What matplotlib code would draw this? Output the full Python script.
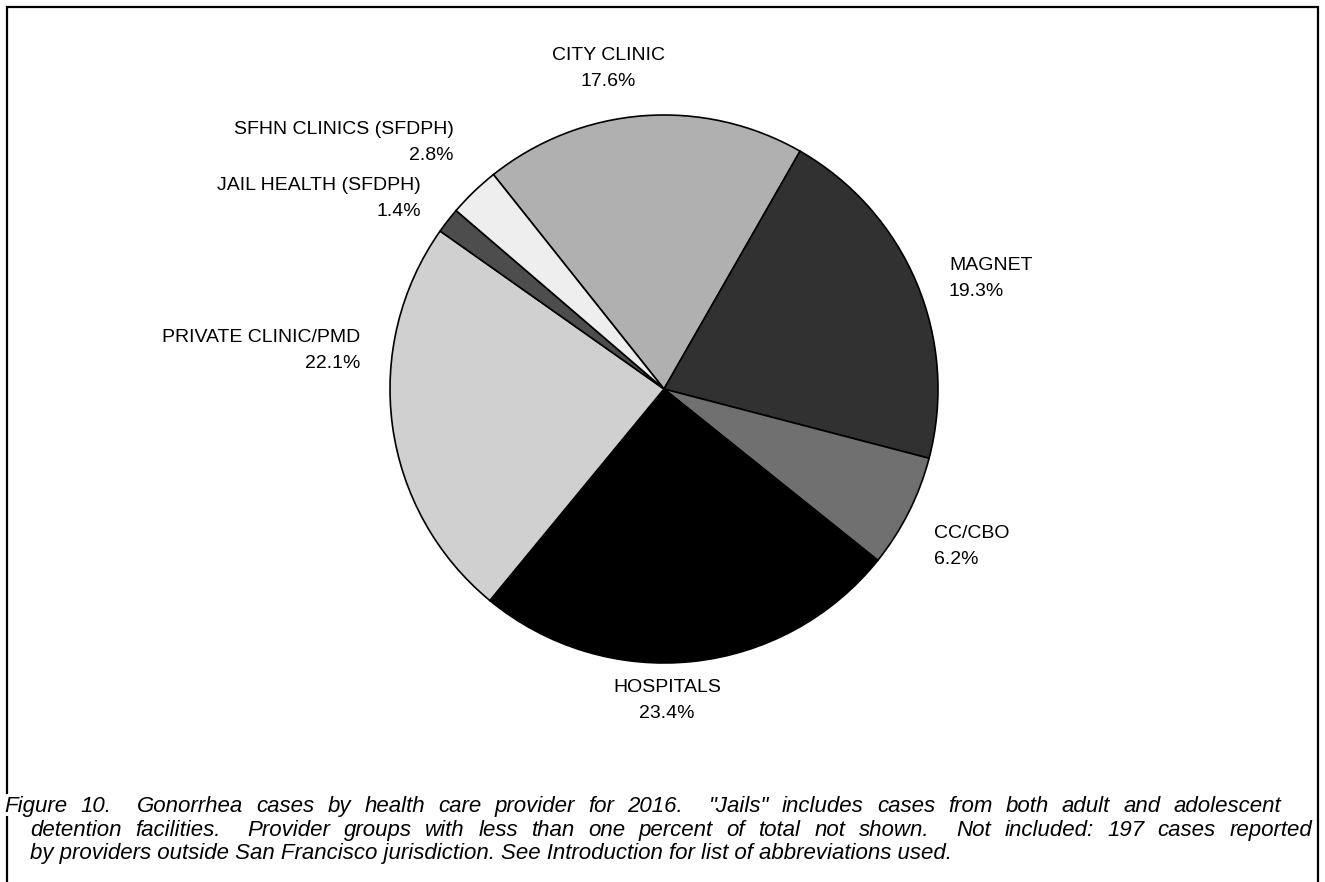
import matplotlib
matplotlib.use("Agg")
import matplotlib.pyplot as plt

# ---- data ----
providers = ["CITY CLINIC", "MAGNET", "CC/CBO", "HOSPITALS",
             "PRIVATE CLINIC/PMD", "JAIL HEALTH (SFDPH)", "SFHN CLINICS (SFDPH)"]
percents = [17.6, 19.3, 6.2, 23.4, 22.1, 1.4, 2.8]
colors = ["#b0b0b0", "#313131", "#707070", "#000000", "#d0d0d0", "#4d4d4d", "#eeeeee"]

caption_lines = [
    "Figure 10.  Gonorrhea cases by health care provider for 2016.  \"Jails\" includes cases from both adult and adolescent",
    "detention facilities.  Provider groups with less than one percent of total not shown.  Not included: 197 cases reported",
    "by providers outside San Francisco jurisdiction. See Introduction for list of abbreviations used.",
]

W, H = 1325, 882
fig = plt.figure(figsize=(W / 100, H / 100), dpi=100)
fig.patch.set_facecolor("white")

# overlay axes in pixel coordinates
ov = fig.add_axes([0, 0, 1, 1])
ov.set_xlim(0, W)
ov.set_ylim(H, 0)
ov.axis("off")

# pie axes: center (664, 389) px, radius 274 px
cx, cy, r = 664, 389, 274
pax = fig.add_axes([(cx - r) / W, (H - cy - r) / H, 2 * r / W, 2 * r / H])
pax.pie(percents, colors=colors, startangle=128.5, counterclock=False, radius=1,
        wedgeprops=dict(edgecolor="black", linewidth=1.2))
pax.set_xlim(-1, 1)
pax.set_ylim(-1, 1)
pax.set_aspect("auto")
pax.axis("off")

lab_font = "Liberation Sans"
fs = 14
label_pos = {
    "CITY CLINIC": (608, 56, "center"),
    "MAGNET": (949, 266, "left"),
    "CC/CBO": (934, 534, "left"),
    "HOSPITALS": (667, 688, "center"),
    "PRIVATE CLINIC/PMD": (360, 337, "right"),
    "JAIL HEALTH (SFDPH)": (421, 185, "right"),
    "SFHN CLINICS (SFDPH)": (454, 129, "right"),
}
for name, pct in zip(providers, percents):
    x, y, ha = label_pos[name]
    ov.text(x, y, name, ha=ha, va="center", fontsize=fs, family=lab_font)
    ov.text(x, y + 26, f"{pct:.1f}%", ha=ha, va="center", fontsize=fs, family=lab_font)

# frame
ov.plot([7, 7, 1318, 1318], [H + 5, 7, 7, H + 5], color="black", lw=1.6,
        solid_joinstyle="miter", clip_on=False)
ov.add_patch(plt.Rectangle((0, 794), 14, 22, facecolor="white", edgecolor="none", zorder=3))

cap_fs = 16
cap_kw = dict(ha="left", va="baseline", fontsize=cap_fs, style="italic",
              family="Liberation Sans", zorder=4)
renderer = fig.canvas.get_renderer()


def draw_justified(x0, x1, y, line):
    parts = line.split(" ")
    arts, widths = [], []
    for p in parts:
        if p:
            a = ov.text(0, y, p, **cap_kw)
            arts.append(a)
            widths.append(a.get_window_extent(renderer).width)
        else:
            arts.append(None)
            widths.append(0.0)
    gap = (x1 - x0 - sum(widths)) / (len(parts) - 1)
    x = x0
    for a, w in zip(arts, widths):
        if a is not None:
            a.set_x(x)
        x += w + gap


draw_justified(4, 1281, 812, caption_lines[0])
draw_justified(30, 1312, 836, caption_lines[1])
ov.text(30, 859, caption_lines[2], **cap_kw)

fig.savefig("out.png", dpi=100)
